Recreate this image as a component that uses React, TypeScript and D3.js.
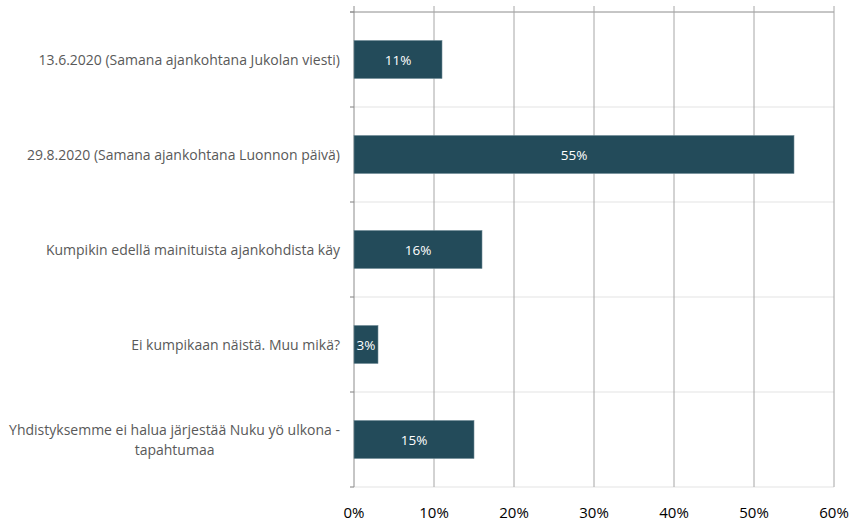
import React from "react";
import * as d3 from "d3";

const CATEGORIES = [
  "13.6.2020 (Samana ajankohtana Jukolan viesti)",
  "29.8.2020 (Samana ajankohtana Luonnon päivä)",
  "Kumpikin edellä mainituista ajankohdista käy",
  "Ei kumpikaan näistä. Muu mikä?",
  "Yhdistyksemme ei halua järjestää Nuku yö ulkona -|tapahtumaa",
];
const VALUES = [11, 55, 16, 3, 15];
const X_TICKS = [0, 10, 20, 30, 40, 50, 60];

const W = 856;
const H = 522;
const M = { top: 12, right: 22, bottom: 35, left: 354 };
const FONT = "'Open Sans', sans-serif";
const BAR = "#234b5a";
const LABEL_SIZE = 14;

function measure(text: string, size: number) {
  const c = document.createElement("canvas").getContext("2d");
  if (!c) return text.length * size * 0.5;
  c.font = `${size}px 'Open Sans'`;
  return c.measureText(text).width;
}

export default function App() {
  const x = d3.scaleLinear().domain([0, 60]).range([M.left, W - M.right]);
  const y = d3
    .scaleBand()
    .domain(CATEGORIES)
    .range([M.top, H - M.bottom])
    .paddingInner(0.6)
    .paddingOuter(0.3);
  const step = y.step();
  const bounds = d3.range(CATEGORIES.length + 1).map((i) => M.top + i * step);
  const labelX = M.left - 14;

  return (
    <svg
      width={W}
      height={H}
      style={{ position: "absolute", left: 0, top: 0, background: "#fff" }}
      fontFamily={FONT}
    >
      {/* horizontal band separators */}
      {bounds.map((b, i) => (
        <line
          key={"h" + i}
          x1={M.left - 4}
          x2={x(60)}
          y1={b}
          y2={b}
          stroke={i === 0 ? "#8c8c8c" : "#e3e3e3"}
          strokeWidth={1}
        />
      ))}
      {/* left ticks */}
      {bounds.map((b, i) => (
        <line key={"t" + i} x1={M.left - 4} x2={M.left} y1={b} y2={b} stroke="#8c8c8c" />
      ))}
      {/* vertical gridlines */}
      {X_TICKS.map((t) => (
        <line
          key={"v" + t}
          x1={x(t)}
          x2={x(t)}
          y1={M.top - 6}
          y2={H - M.bottom}
          stroke={t === 0 ? "#8c8c8c" : "#a6a6a6"}
          strokeWidth={1}
        />
      ))}
      {/* bars */}
      {CATEGORIES.map((c, i) => (
        <g key={c}>
          <rect
            x={x(0)}
            y={y(c)!}
            width={x(VALUES[i]) - x(0)}
            height={y.bandwidth()}
            fill={BAR}
            stroke="#6f8a94"
            strokeWidth={0.6}
          />
          <text
            x={(x(0) + x(VALUES[i])) / 2}
            y={y(c)! + y.bandwidth() / 2}
            textAnchor="middle"
            dominantBaseline="central"
            fill="#fff"
            fontSize={13.5}
          >
            {VALUES[i]}%
          </text>
        </g>
      ))}
      {/* category labels */}
      {CATEGORIES.map((c) => {
        const lines = c.split("|");
        const cy = y(c)! + y.bandwidth() / 2;
        if (lines.length === 1) {
          return (
            <text
              key={c}
              x={labelX}
              y={cy}
              textAnchor="end"
              dominantBaseline="central"
              fill="#595959"
              fontSize={LABEL_SIZE}
            >
              {c}
            </text>
          );
        }
        const w = measure(lines[0], LABEL_SIZE);
        const center = labelX - w / 2;
        return (
          <text key={c} fill="#595959" fontSize={LABEL_SIZE} textAnchor="middle">
            {lines.map((l, j) => (
              <tspan
                key={j}
                x={center}
                y={cy + (j - (lines.length - 1) / 2) * 20}
                dominantBaseline="central"
              >
                {l}
              </tspan>
            ))}
          </text>
        );
      })}
      {/* x tick labels */}
      {X_TICKS.map((t) => (
        <text
          key={"l" + t}
          x={x(t)}
          y={H - 10}
          textAnchor="middle"
          dominantBaseline="central"
          fontSize={15}
          fill="#000"
        >
          {t}%
        </text>
      ))}
    </svg>
  );
}
